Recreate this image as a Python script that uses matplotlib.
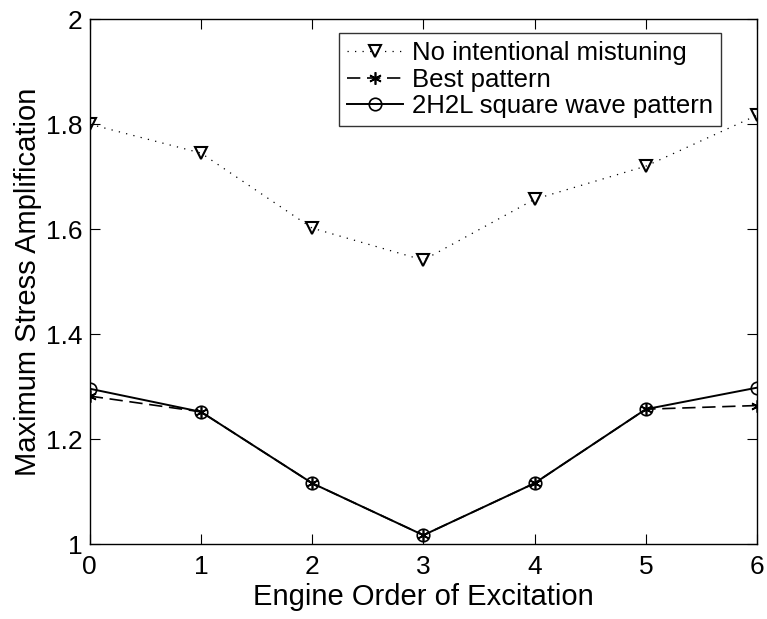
import numpy as np
import matplotlib
matplotlib.use('Agg')
import matplotlib.pyplot as plt

plt.rcParams['font.family'] = ['Liberation Sans', 'DejaVu Sans']

# === data ===
engine_order = [0, 1, 2, 3, 4, 5, 6]
no_mistuning = [1.800, 1.745, 1.602, 1.541, 1.657, 1.720, 1.817]
best_pattern = [1.282, 1.252, 1.116, 1.017, 1.116, 1.257, 1.264]
square_wave = [1.296, 1.252, 1.116, 1.017, 1.116, 1.257, 1.298]

fig = plt.figure(figsize=(7.67, 6.19), dpi=100)
ax = fig.add_axes([0.117, 0.121, 0.870, 0.848])

ax.plot(engine_order, no_mistuning, color='black', lw=0.9, linestyle=(0, (1, 5)),
        marker='v', markersize=9, markerfacecolor='none', markeredgewidth=1.5,
        label='No intentional mistuning')
ax.plot(engine_order, best_pattern, color='black', lw=1.2, linestyle=(0, (8, 4)),
        marker=(6, 2, 0), markersize=9, markeredgewidth=1.2,
        label='Best pattern')
ax.plot(engine_order, square_wave, color='black', lw=1.4, linestyle='-',
        marker='o', markersize=9, markerfacecolor='none', markeredgewidth=1.2,
        label='2H2L square wave pattern')

ax.set_xlim(0, 6)
ax.set_ylim(1, 2)
ax.set_xticks(engine_order)
ax.set_yticks([1, 1.2, 1.4, 1.6, 1.8, 2])
ax.set_yticklabels(['1', '1.2', '1.4', '1.6', '1.8', '2'])
ax.tick_params(direction='in', top=True, right=True, length=7, width=0.8,
               labelsize=19)
ax.tick_params(axis='x', pad=8)
ax.tick_params(axis='y', pad=5)
for s in ax.spines.values():
    s.set_linewidth(1.0)

ax.set_xlabel('Engine Order of Excitation', fontsize=21, labelpad=3)
ax.set_ylabel('Maximum Stress Amplification', fontsize=21, labelpad=3)

leg = ax.legend(loc='upper right', bbox_to_anchor=(0.946, 0.973), fontsize=18.5,
                frameon=True, fancybox=False, edgecolor='black',
                handlelength=2.2, borderpad=0.3, labelspacing=0.1,
                handletextpad=0.35, borderaxespad=0)
leg.get_frame().set_linewidth(1.0)

fig.savefig('out.png', dpi=100)
